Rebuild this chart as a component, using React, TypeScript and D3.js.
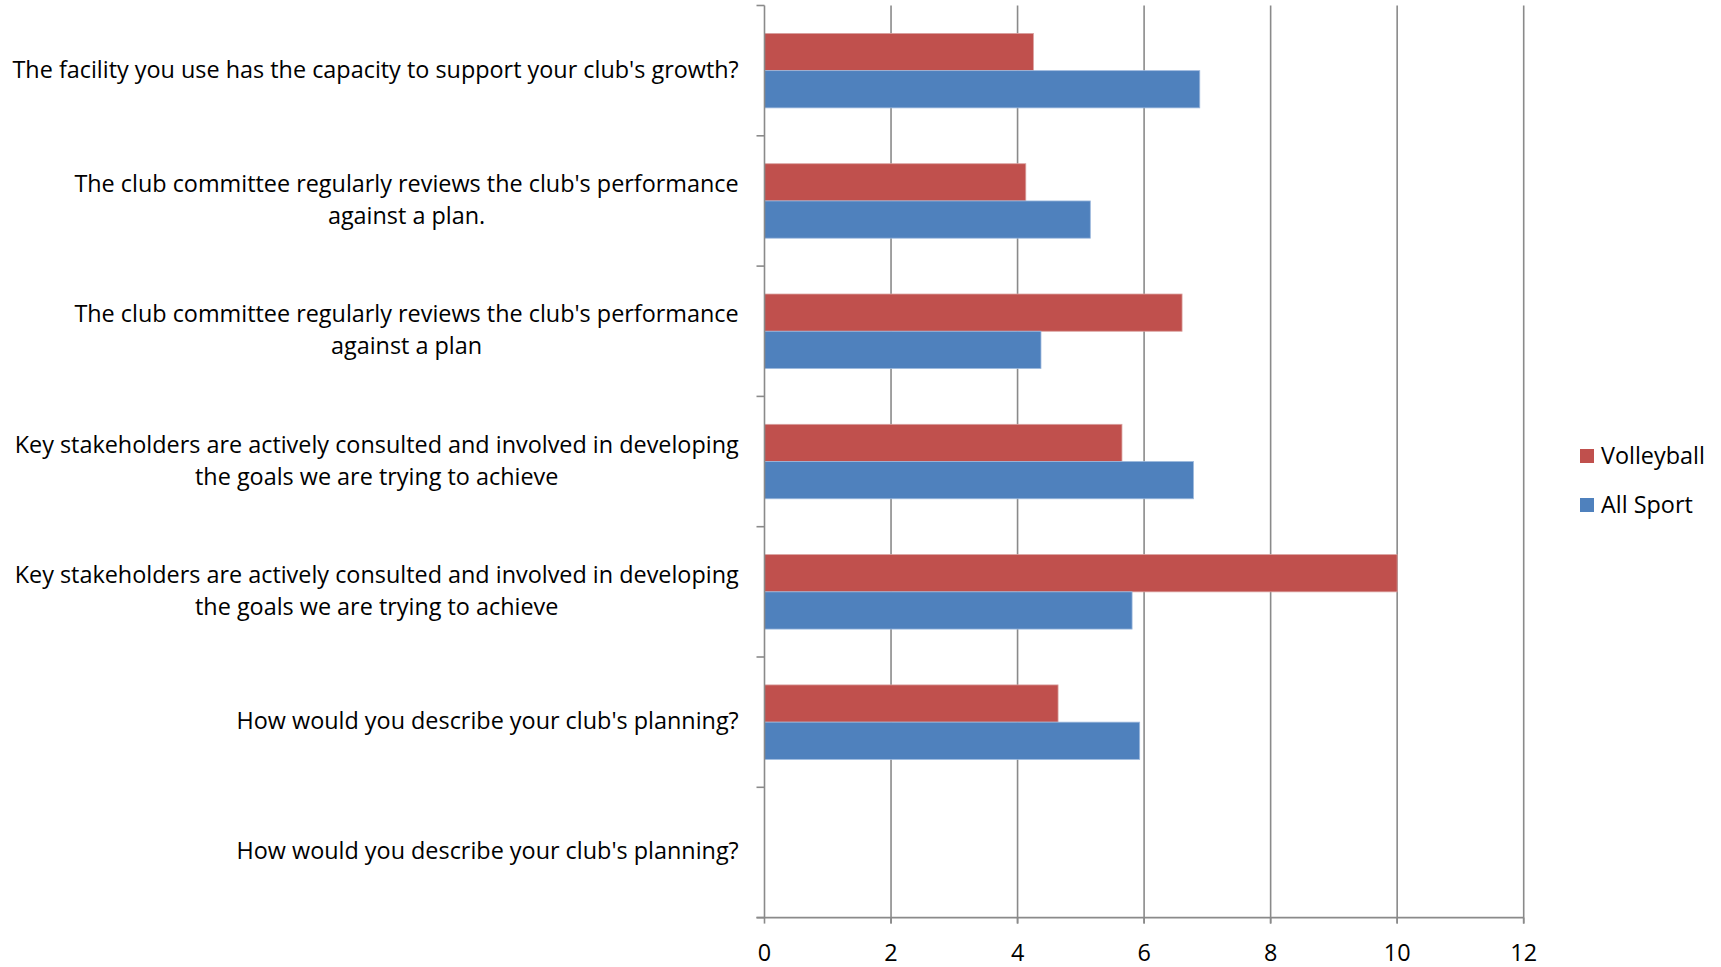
import { useEffect } from 'react';
import * as d3 from 'd3';

// categories listed top to bottom, "\n" marks a line break in the label
const categories = [
  "The facility you use has the capacity to support your club's growth?",
  "The club committee regularly reviews the club's performance\nagainst a plan.",
  "The club committee regularly reviews the club's performance\nagainst a plan",
  'Key stakeholders are actively consulted and involved in developing\nthe goals we are trying to achieve',
  'Key stakeholders are actively consulted and involved in developing\nthe goals we are trying to achieve',
  "How would you describe your club's planning?",
  "How would you describe your club's planning?",
];

const volleyball: (number | null)[] = [4.25, 4.13, 6.6, 5.65, 10, 4.64, null];
const allSport: (number | null)[] = [6.88, 5.15, 4.37, 6.78, 5.81, 5.93, null];

const seriesNames = ['Volleyball', 'All Sport'];
const xTicks = [0, 2, 4, 6, 8, 10, 12];

const W = 1721;
const H = 967;
const FONT = '"Open Sans", "Noto Sans", sans-serif';
const FS = 23.4;
const RED = '#C0504D';
const BLUE = '#4F81BD';
const GRID = '#8a8a8a';

const App = () => {
  useEffect(() => {
    document.body.style.margin = '0';
  }, []);

  const x = d3.scaleLinear().domain([0, 12]).range([764.5, 1523.7]);
  const y = d3
    .scaleBand<number>()
    .domain(d3.range(categories.length))
    .range([5.5, 917.6]);
  // Excel gap width 150%: two bars take 2 of 3.5 parts of each band
  const inner = d3
    .scaleBand<number>()
    .domain([0, 1])
    .range([0, (y.bandwidth() * 2) / 3.5]);
  const groupOffset = (y.bandwidth() * 0.75) / 3.5;

  const series = [volleyball, allSport];
  const colors = [RED, BLUE];
  const strokes = ['#d9a09e', '#9cb8dd'];
  const labelRight = 738.7;
  const lineH = 32;

  return (
    <svg width={W} height={H} style={{ display: 'block', background: '#fff' }} fontFamily={FONT}>
      {/* vertical gridlines */}
      {xTicks.slice(1).map((t) => (
        <line key={t} x1={x(t)} x2={x(t)} y1={y.range()[0]} y2={y.range()[1] + 6} stroke={GRID} strokeWidth={1.6} />
      ))}

      {/* bars */}
      {categories.map((_, i) =>
        series.map((s, k) => {
          const v = s[i];
          if (v == null) return null;
          return (
            <rect
              key={`${i}-${k}`}
              x={x(0)}
              y={(y(i) ?? 0) + groupOffset + (inner(k) ?? 0)}
              width={x(v) - x(0)}
              height={inner.bandwidth()}
              fill={colors[k]}
              stroke={strokes[k]}
              strokeWidth={0.8}
            />
          );
        })
      )}

      {/* category axis */}
      <line x1={x(0)} x2={x(0)} y1={y.range()[0]} y2={y.range()[1]} stroke={GRID} strokeWidth={1.6} />
      {d3.range(categories.length + 1).map((i) => {
        const yy = y.range()[0] + i * y.step();
        return <line key={i} x1={x(0) - 8} x2={x(0)} y1={yy} y2={yy} stroke={GRID} strokeWidth={1.6} />;
      })}

      {/* value axis */}
      <line x1={x(0) - 8} x2={x(12)} y1={y.range()[1]} y2={y.range()[1]} stroke={GRID} strokeWidth={1.6} />
      {xTicks.map((t) => (
        <g key={t}>
          <line x1={x(t)} x2={x(t)} y1={y.range()[1]} y2={y.range()[1] + 6} stroke={GRID} strokeWidth={1.6} />
          <text x={x(t)} y={952} textAnchor="middle" dominantBaseline="central" fontSize={FS} fill="#000">
            {t}
          </text>
        </g>
      ))}

      {/* category labels */}
      {categories.map((c, i) => {
        const lines = c.split('\n');
        const cy = (y(i) ?? 0) + y.bandwidth() / 2 - 2;
        const y0 = cy - ((lines.length - 1) * lineH) / 2;
        if (lines.length === 1) {
          return (
            <text key={i} x={labelRight} y={cy} textAnchor="end" dominantBaseline="central" fontSize={FS} fill="#000">
              {c}
            </text>
          );
        }
        return (
          <text
            key={i}
            x={labelRight}
            y={y0}
            textAnchor="end"
            dominantBaseline="central"
            fontSize={FS}
            fill="#000"
            ref={(el) => {
              if (!el) return;
              const spans = Array.from(el.querySelectorAll('tspan')) as SVGTSpanElement[];
              const widths = spans.map((sp) => sp.getComputedTextLength());
              const maxW = Math.max(...widths);
              spans.forEach((sp) => {
                sp.setAttribute('x', String(labelRight - maxW / 2));
                sp.setAttribute('text-anchor', 'middle');
              });
            }}
          >
            {lines.map((l, j) => (
              <tspan key={j} x={labelRight} y={y0 + j * lineH}>
                {l}
              </tspan>
            ))}
          </text>
        );
      })}

      {/* legend */}
      {seriesNames.map((n, k) => (
        <g key={n} transform={`translate(1580, ${449 + k * 49})`}>
          <rect width={14} height={14} fill={colors[k]} />
          <text x={21} y={6} dominantBaseline="central" fontSize={FS} fill="#000">
            {n}
          </text>
        </g>
      ))}
    </svg>
  );
};

export default App;
